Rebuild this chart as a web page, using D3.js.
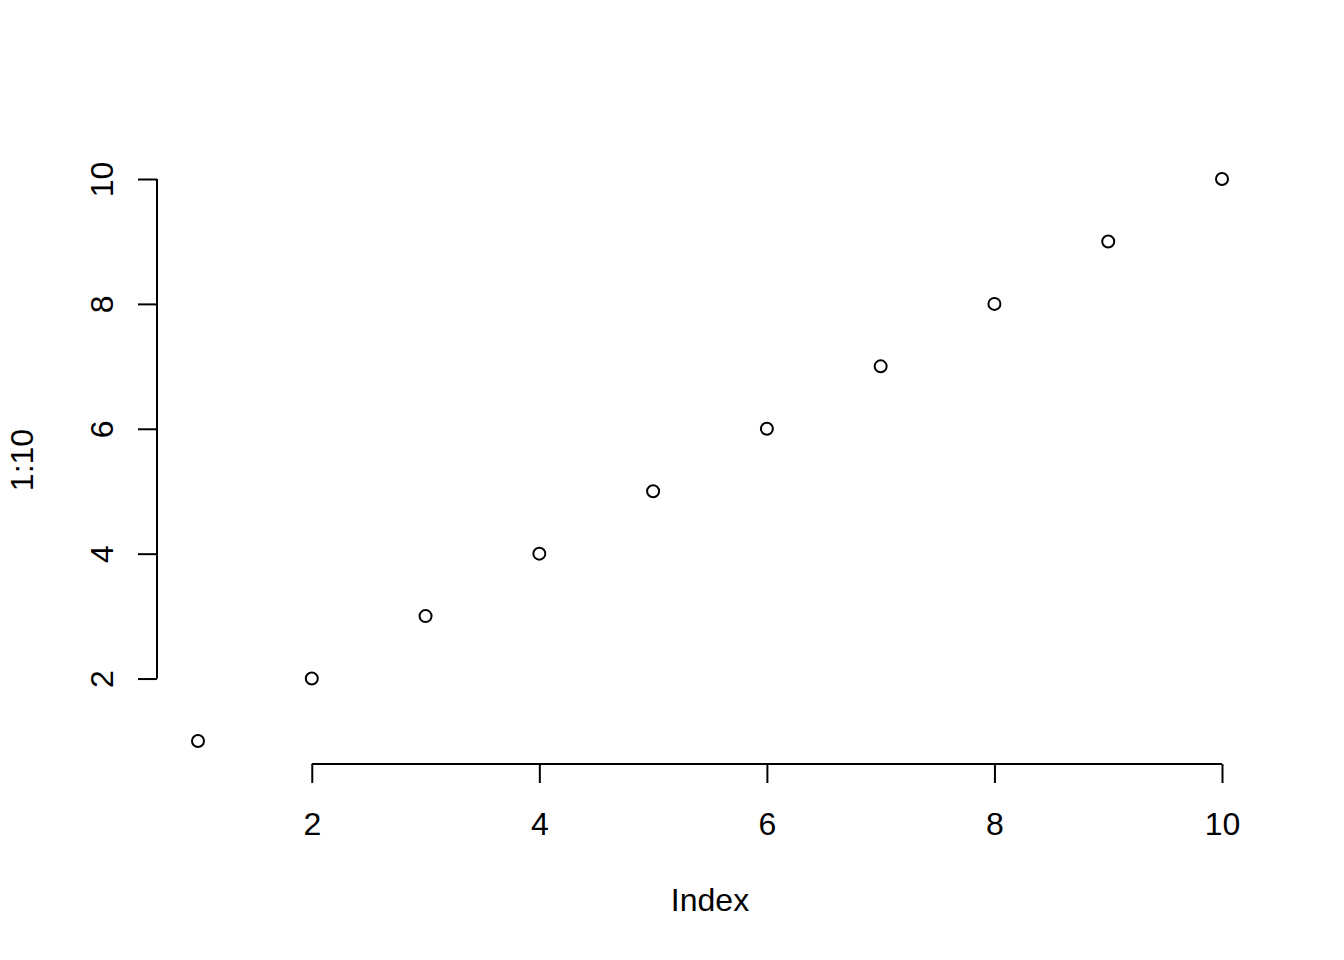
<!DOCTYPE html>
<style>
  body { margin: 0; background: #fff; }
  text { font-family: "Liberation Sans", Arial, sans-serif; fill: #000; }
</style>
<body></body>
<script src="https://cdn.jsdelivr.net/npm/d3@7"></script>
<script>
  const width = 1344
  const height = 960

  // plot(1:10)
  const index = [1, 2, 3, 4, 5, 6, 7, 8, 9, 10]
  const values = [1, 2, 3, 4, 5, 6, 7, 8, 9, 10]
  const xTicks = [2, 4, 6, 8, 10]
  const yTicks = [2, 4, 6, 8, 10]

  const xScale = d3.scaleLinear().domain([1, 10]).range([198, 1222])
  const yScale = d3.scaleLinear().domain([1, 10]).range([741, 179])

  const svg = d3.select("body").append("svg")
    .attr("width", width)
    .attr("height", height)

  const fontSize = 32

  // x axis
  const xAxis = d3.axisBottom(xScale)
    .tickValues(xTicks)
    .tickSize(19)
    .tickSizeOuter(0)
    .tickPadding(29)
    .tickFormat(d3.format("d"))

  const gx = svg.append("g")
    .attr("transform", "translate(0, 764)")
    .call(xAxis)
  gx.select(".domain")
    .attr("d", `M${xScale(2)},0H${xScale(10)}`)
  gx.selectAll("path, line").attr("stroke", "#000").attr("stroke-width", 2)
  gx.selectAll("text")
    .style("font-size", fontSize + "px")
    .attr("font-family", null)

  // y axis, labels rotated like R's default las=0
  const yAxis = d3.axisLeft(yScale)
    .tickValues(yTicks)
    .tickSize(19)
    .tickSizeOuter(0)
    .tickFormat(d3.format("d"))

  const gy = svg.append("g")
    .attr("transform", "translate(157, 0)")
    .call(yAxis)
  gy.select(".domain")
    .attr("d", `M0,${yScale(2)}V${yScale(10)}`)
  gy.selectAll("path, line").attr("stroke", "#000").attr("stroke-width", 2)
  gy.selectAll("text")
    .attr("x", null)
    .attr("dy", null)
    .attr("y", null)
    .attr("text-anchor", "middle")
    .attr("transform", "translate(-44, 0) rotate(-90)")
    .style("font-size", fontSize + "px")
    .attr("font-family", null)

  // points
  svg.append("g")
    .selectAll("circle")
    .data(index.map((d, i) => ({ x: d, y: values[i] })))
    .enter()
    .append("circle")
    .attr("cx", d => xScale(d.x))
    .attr("cy", d => yScale(d.y))
    .attr("r", 6)
    .attr("fill", "none")
    .attr("stroke", "#000")
    .attr("stroke-width", 2)

  // axis titles
  svg.append("text")
    .attr("x", 710)
    .attr("y", 911)
    .attr("text-anchor", "middle")
    .style("font-size", fontSize + "px")
    .text("Index")

  svg.append("text")
    .attr("transform", "translate(33, 460) rotate(-90)")
    .attr("text-anchor", "middle")
    .style("font-size", fontSize + "px")
    .text("1:10")
</script>
